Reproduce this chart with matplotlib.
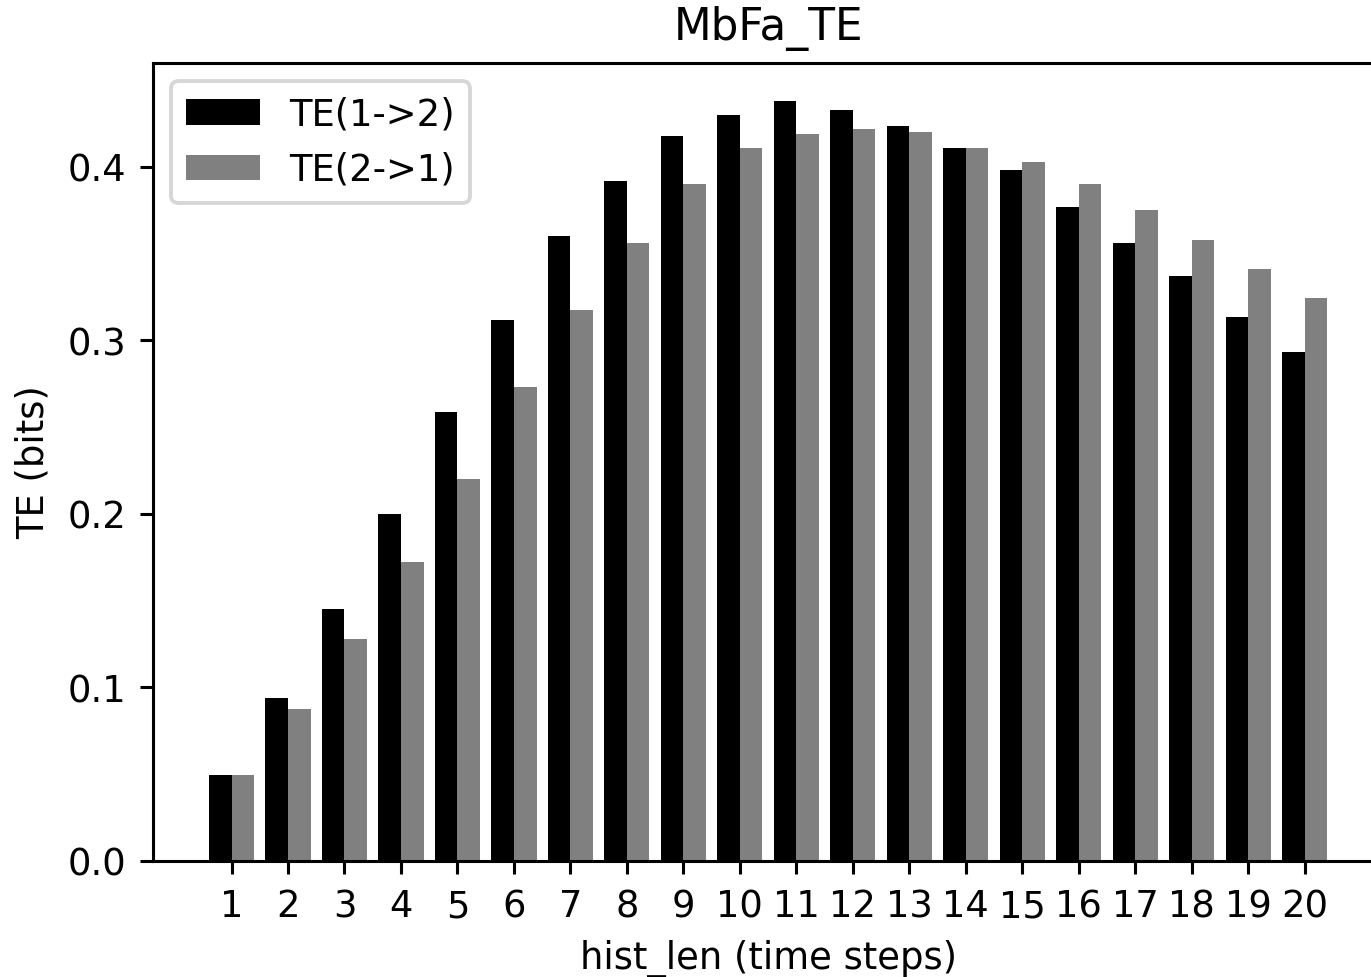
import numpy as np
import matplotlib
matplotlib.use('Agg')
import matplotlib.pyplot as plt

hist_len = list(range(1, 21))
te_1_to_2 = [0.0495, 0.0938, 0.145, 0.1997, 0.259, 0.312, 0.360, 0.392, 0.418, 0.430,
             0.438, 0.433, 0.4235, 0.411, 0.398, 0.377, 0.356, 0.337, 0.3136, 0.293]
te_2_to_1 = [0.0495, 0.0875, 0.128, 0.172, 0.220, 0.273, 0.3176, 0.356, 0.390, 0.411,
             0.419, 0.422, 0.420, 0.411, 0.403, 0.390, 0.375, 0.358, 0.341, 0.3245]

# Scaled-up notebook figure: render at a high dpi so default sizes scale.
DPI = 276.5
plt.rcParams['font.size'] = 9.6
plt.rcParams['axes.titlesize'] = 11.4
fig = plt.figure(figsize=(1371.2 / DPI, 977.2 / DPI), dpi=DPI)
ax = fig.add_axes([0.1116, 0.1187, 0.8971, 0.8168])

x = np.array(hist_len)
w = 0.4
ax.bar(x - w / 2, te_1_to_2, width=w, color='black', label='TE(1->2)')
ax.bar(x + w / 2, te_2_to_1, width=w, color='grey', label='TE(2->1)')

ax.set_xticks(x)
ax.set_title('MbFa_TE')
ax.set_xlabel('hist_len (time steps)')
ax.set_ylabel('TE (bits)')
ax.legend(loc='upper left')

fig.savefig('out.png', dpi=DPI)
